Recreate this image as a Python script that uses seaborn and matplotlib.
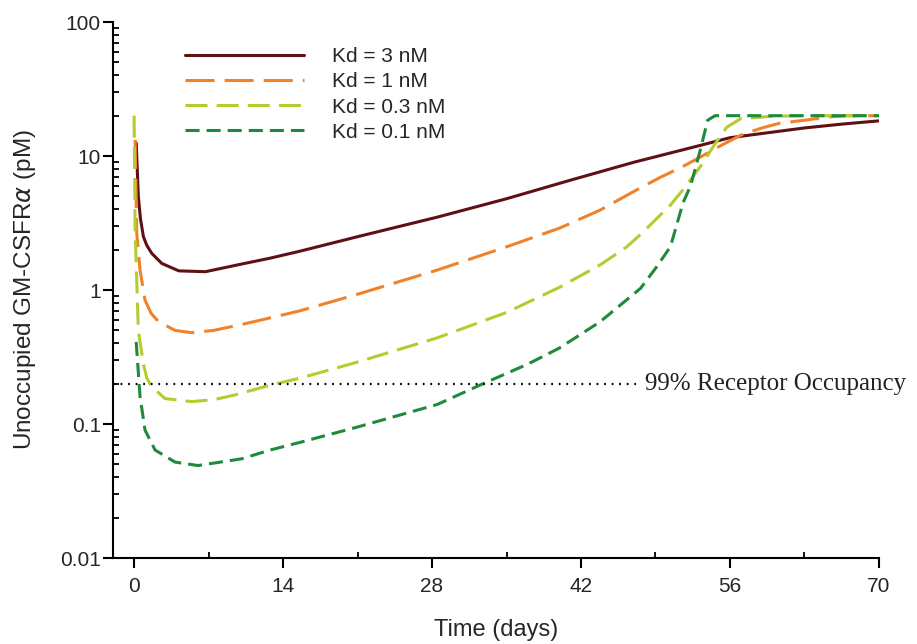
import pandas as pd
import seaborn as sns
import matplotlib.pyplot as plt
from matplotlib.ticker import LogLocator, FixedLocator, NullFormatter, FuncFormatter

# unoccupied receptor (pM) vs time (days)
t_kd3 = [0.2, 0.4, 0.6, 0.88, 1.2, 1.66, 2.6, 4.2, 6.7, 10.4, 12.8, 15.6, 21,
         28.5, 35, 41, 47, 53.2, 56, 59.5, 63, 66.5, 70]
v_kd3 = [12.5, 5.0, 3.4, 2.5, 2.15, 1.88, 1.58, 1.39, 1.37, 1.58, 1.73, 1.95,
         2.5, 3.5, 4.8, 6.6, 9.0, 12.0, 13.7, 14.9, 16.2, 17.3, 18.3]

t_kd1 = [0.1, 0.25, 0.56, 1.03, 1.6, 2.3, 3.85, 5.4, 7.5, 10.4, 12.8, 15.6, 21, 28.5,
         35, 40, 43.8, 47.6, 49.4, 51.5, 53.2, 55, 57, 59, 60.7, 63.3, 65, 67, 70]
v_kd1 = [13.2, 2.65, 1.41, 0.84, 0.67, 0.58, 0.50, 0.48, 0.50, 0.56, 0.62, 0.70, 0.93,
         1.41, 2.1, 2.9, 3.95, 5.8, 6.9, 8.3, 9.8, 11.8, 14.3, 16.2, 17.6, 18.6, 19.5,
         20, 20]

t_kd03 = [0, 0.1, 0.4, 0.88, 1.2, 1.66, 2.9, 5.4, 7.5, 9.5, 12.8, 15.6, 21, 28.5, 35,
          40, 43.8, 46.3, 47.6, 50.4, 51.5, 53.2, 54.5, 55.7, 57, 60, 63, 66, 70]
v_kd03 = [20, 2.8, 0.5, 0.28, 0.22, 0.19, 0.155, 0.147, 0.152, 0.165, 0.195, 0.22,
          0.29, 0.44, 0.68, 1.05, 1.54, 2.1, 2.6, 4.3, 5.5, 8.3, 12, 16.4, 19.0, 19.8,
          20, 20, 20]

t_kd01 = [0.2, 0.56, 1.03, 1.97, 3.85, 6.0, 10.1, 12.8, 15.6, 21, 28.5, 32.8, 37,
          40, 43.8, 47.6, 49, 50.4, 51.6, 52.3, 53.2, 53.9, 54.6, 60, 65, 70]
v_kd01 = [0.41, 0.16, 0.090, 0.064, 0.052, 0.049, 0.055, 0.064, 0.073, 0.095,
          0.14, 0.2, 0.28, 0.37, 0.58, 1.03, 1.45, 2.1, 4.5, 6.0, 11, 18.5, 20, 20,
          20, 20]

labels = ["Kd = 3 nM", "Kd = 1 nM", "Kd = 0.3 nM", "Kd = 0.1 nM"]
colors = ["#5e1014", "#f0822a", "#b7cb2e", "#1f8a3c"]
dash_styles = ["", (9.5, 3.3), (7.2, 3.0), (4.6, 2.3)]

occupancy_level = 0.2
occupancy_end = 47.2
occupancy_text = "99% Receptor Occupancy"

x_ticks = [0, 14, 28, 42, 56, 70]
x_minor = [7, 21, 35, 49, 63]

frames = []
for lab, t, v in zip(labels, [t_kd3, t_kd1, t_kd03, t_kd01],
                     [v_kd3, v_kd1, v_kd03, v_kd01]):
    frames.append(pd.DataFrame({"time": t, "conc": v, "Kd": lab}))
df = pd.concat(frames, ignore_index=True)

sns.set_style("ticks")
plt.rcParams["font.family"] = ["Liberation Sans", "DejaVu Sans"]

fig = plt.figure(figsize=(9.17, 6.44), dpi=100)
ax = fig.add_axes([0.123, 0.1335, 0.8355, 0.8323])

sns.lineplot(data=df, x="time", y="conc", hue="Kd", style="Kd",
             hue_order=labels, style_order=labels,
             palette=dict(zip(labels, colors)),
             dashes=dict(zip(labels, dash_styles)),
             lw=2.2, sort=False, errorbar=None, ax=ax)

ax.set_yscale("log")
ax.set_ylim(0.01, 100)
ax.set_xlim(-2, 70)

# dotted threshold line + its label
ax.hlines(occupancy_level, -2, occupancy_end, colors="black",
          linestyles=(0, (0.8, 2.6)), lw=1.6)
ax.text(occupancy_end + 0.8, occupancy_level, occupancy_text,
        family=["Liberation Serif", "DejaVu Serif"], fontsize=18,
        va="center", ha="left", color="#222222")

# ticks
ax.set_xticks(x_ticks)
ax.xaxis.set_minor_locator(FixedLocator(x_minor))
ax.yaxis.set_major_locator(LogLocator(base=10, numticks=10))
ax.yaxis.set_minor_locator(LogLocator(base=10, subs=range(2, 10), numticks=10))
ax.yaxis.set_major_formatter(FuncFormatter(lambda v, p: f"{v:g}"))
ax.yaxis.set_minor_formatter(NullFormatter())
ax.tick_params(which="major", direction="out", length=7, width=1.5,
               labelsize=15, color="black")
ax.tick_params(axis="x", which="major", pad=7)
ax.tick_params(axis="y", which="major", pad=1.5)
ax.tick_params(which="minor", direction="in", length=4.5, width=1.3, color="black")

sns.despine(ax=ax)
for s in ["left", "bottom"]:
    ax.spines[s].set_linewidth(1.5)
    ax.spines[s].set_color("black")

ax.set_xlabel("Time (days)", fontsize=17, labelpad=16)
ax.set_ylabel("Unoccupied GM-CSFR$\\alpha$ (pM)", fontsize=17.5, labelpad=16)

handles, lbls = ax.get_legend_handles_labels()
ax.legend(handles, lbls, loc="upper left", bbox_to_anchor=(0.2017, 0.927),
          bbox_transform=fig.transFigure, frameon=False, fontsize=15,
          handlelength=5.7, handletextpad=1.35, labelspacing=0.3,
          borderpad=0, borderaxespad=0)

fig.savefig("out.png", dpi=100)
